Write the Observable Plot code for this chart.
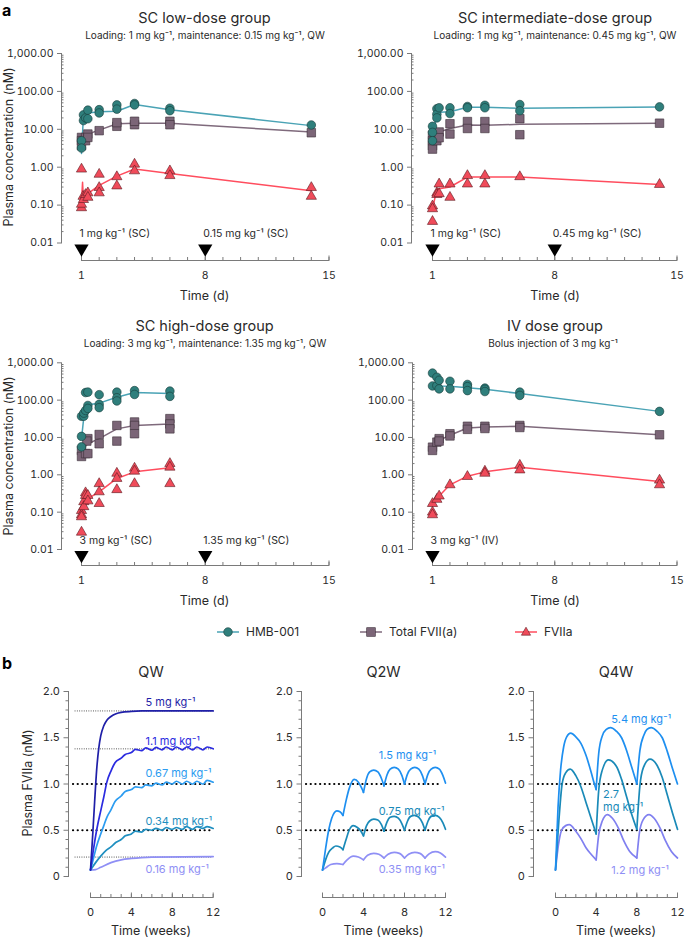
<!DOCTYPE html>
<html><head><meta charset="utf-8">
<script src="https://cdn.jsdelivr.net/npm/d3@7"></script>
<script src="https://cdn.jsdelivr.net/npm/@observablehq/plot@0.6"></script>
<style>
body{margin:0;background:#fff;overflow:hidden;}
#root{position:relative;width:685px;height:938px;font-family:Inter,"Noto Sans",sans-serif;color:#2a2a2a;overflow:hidden;}
.abs{position:absolute;white-space:nowrap;line-height:1;}
.c{transform:translate(-50%,-50%);}
.l{transform:translate(0,-50%);}
.r{transform:translate(-50%,-50%) rotate(-90deg);}
</style></head><body><div id="root"></div>
<script>
// ---------------- DATA: panel a (day, concentration nM) ----------------
const lowHMB_pts = [[1,5.0],[1,3.2],[1.11,24],[1.11,17],[1.23,20],[1.36,32],[1.36,19],[2,33],[2,27],[3,44],[3,34],[4,48],[4,44],[6,36],[6,31],[14,13]];
const lowHMB_mean = [[1,2.3],[1.11,23],[1.36,27],[2,29],[3,30],[4,45],[6,33],[14,12.5]];
const lowFVII_pts = [[1,6.1],[1,5.0],[1,3.7],[1.23,5.0],[1.23,6.1],[1.36,7.5],[1.36,6.1],[2,9.2],[3,12],[3,15],[4,13.2],[4,16.3],[6,16.3],[6,13.2],[14,8.1]];
const lowFVII_mean = [[1,5.5],[1.23,6.2],[1.36,7.5],[2,9.5],[3,14],[4,14.5],[6,14.5],[14,8.5]];
const lowFVIIa_pts = [[1,0.89],[1,0.085],[1,0.105],[1.09,0.17],[1.11,0.14],[1.23,0.19],[1.36,0.21],[1.36,0.16],[2,0.65],[2,0.29],[2,0.21],[3,0.56],[3,0.32],[4,1.2],[4,0.8],[6,0.8],[6,0.6],[14,0.29],[14,0.17]];
const lowFVIIa_mean = [[1,0.13],[1.06,0.4],[1.11,0.14],[1.36,0.2],[2,0.33],[3,0.58],[4,0.9],[6,0.68],[14,0.24]];

const midHMB_pts = [[1,12],[1,8.3],[1,5],[1.25,35],[1.25,25],[1.25,20],[1.38,37],[2,37],[2,26],[3,40],[3,37],[4,43],[4,37],[6,45],[6,31],[14,39]];
const midHMB_mean = [[1,7],[1.25,23],[1.38,28],[2,29],[3,38],[4,38],[6,36],[14,39]];
const midFVII_pts = [[1,7],[1,5],[1,3.7],[1,3.0],[1.25,7.5],[1.25,5],[1.38,8.5],[1.38,6],[2,14],[2,7.5],[3,16],[3,10.5],[4,16],[4,10.5],[6,19],[6,7.2],[14,14.5]];
const midFVII_mean = [[1,5.5],[1.25,6.8],[1.38,8.5],[2,10.5],[3,13],[4,12.8],[6,13.5],[14,14.5]];
const midFVIIa_pts = [[1,0.095],[1,0.08],[1,0.037],[1.25,0.21],[1.25,0.19],[1.38,0.36],[1.38,0.2],[2,0.36],[2,0.16],[3,0.6],[3,0.36],[4,0.6],[4,0.36],[6,0.56],[14,0.35]];
const midFVIIa_mean = [[1,0.08],[1.25,0.26],[1.38,0.27],[2,0.3],[3,0.55],[4,0.55],[6,0.55],[14,0.35]];

const highHMB_pts = [[1,37],[1,10.7],[1,5.6],[1.13,37],[1.13,45],[1.23,160],[1.23,53],[1.36,164],[1.36,72],[1.36,60],[2,140],[2,77],[2,63],[3,164],[3,116],[3,95],[4,180],[4,142],[6,175],[6,126]];
const highHMB_mean = [[1,9],[1.13,35],[1.23,55],[1.36,75],[2,83],[3,120],[4,160],[6,150]];
const highFVII_pts = [[1,4.5],[1,3.1],[1.23,3.7],[1.36,9.3],[1.36,3.7],[1.3,8],[2,12],[2,6.8],[3,21],[3,8],[4,26],[4,21],[4,12.6],[6,32],[6,23],[6,17]];
const highFVII_mean = [[1,4.5],[1.36,6.8],[2,9.3],[3,17],[4,21],[6,23]];
const highFVIIa_pts = [[1,0.11],[1,0.085],[1,0.075],[1,0.029],[1.13,0.19],[1.13,0.14],[1.23,0.33],[1.23,0.28],[1.36,0.28],[1.36,0.2],[2,0.58],[2,0.35],[2,0.17],[3,1.1],[3,0.8],[3,0.4],[4,1.5],[4,1.25],[4,0.58],[6,2.0],[6,1.6],[6,0.58]];
const highFVIIa_mean = [[1,0.09],[1.13,0.18],[1.36,0.23],[2,0.35],[3,0.8],[4,1.2],[6,1.55]];

const ivHMB_pts = [[1,530],[1,240],[1.25,410],[1.25,245],[1.38,340],[1.38,200],[2,320],[2,200],[3,263],[3,230],[3,180],[4,210],[4,195],[4,170],[6,164],[6,134],[14,50]];
const ivHMB_mean = [[1,260],[1.25,255],[1.38,240],[2,235],[3,215],[4,195],[6,150],[14,50]];
const ivFVII_pts = [[1,5.5],[1,4.5],[1.25,7.5],[1.38,9.3],[1.38,8],[2,12.6],[2,11],[3,20],[3,16.5],[4,20],[4,17.4],[6,21],[6,18.5],[14,11.8]];
const ivFVII_mean = [[1,5],[1.25,7],[1.38,8.4],[2,11.5],[3,18],[4,19],[6,20],[14,11.8]];
const ivFVIIa_pts = [[1,0.17],[1,0.1],[1,0.085],[1.25,0.22],[1.38,0.27],[2,0.54],[3,0.9],[4,1.25],[4,1.1],[6,1.8],[6,1.35],[14,0.72],[14,0.54]];
const ivFVIIa_mean = [[1,0.16],[1.25,0.22],[1.38,0.27],[2,0.54],[3,0.92],[4,1.2],[6,1.6],[14,0.66]];

const lowDoses = [{day:1, c:0.01, label:"1 mg kg⁻¹ (SC)"},{day:8, c:0.01, label:"0.15 mg kg⁻¹ (SC)"}];
const midDoses = [{day:1, c:0.01, label:"1 mg kg⁻¹ (SC)"},{day:8, c:0.01, label:"0.45 mg kg⁻¹ (SC)"}];
const highDoses = [{day:1, c:0.01, label:"3 mg kg⁻¹ (SC)"},{day:8, c:0.01, label:"1.35 mg kg⁻¹ (SC)"}];
const ivDoses = [{day:1, c:0.01, label:"3 mg kg⁻¹ (IV)"}];

const yMajorA = [0.01, 0.1, 1, 10, 100, 1000];
const dayTicks = [1, 8, 15];

// ---------------- DATA: panel b (weeks, plasma FVIIa nM) ----------------
const qw5 = [[0,0.07],[0.2,0.42],[0.4,0.8],[0.6,1.15],[0.8,1.38],[1.0,1.52],[1.3,1.63],[1.6,1.69],[2.0,1.73],[2.5,1.76],[3,1.775],[4,1.785],[5,1.79],[8,1.79],[12,1.79]];
const qw11 = [[0,0.07],[0.3,0.3],[0.65,0.53],[1,0.71],[1.3,0.86],[1.6,1.02],[2,1.14],[2.4,1.23],[3,1.28],[3.4,1.32],[4,1.34],[4.4,1.375],[5,1.36],[5.4,1.39],[6,1.365],[6.4,1.395],[7,1.37],[7.4,1.4],[8,1.37],[8.4,1.4],[9,1.37],[9.4,1.4],[10,1.37],[10.4,1.4],[11,1.37],[11.4,1.4],[12,1.38]];
const qw067 = [[0,0.07],[0.3,0.2],[0.6,0.33],[1,0.46],[1.3,0.55],[1.6,0.64],[2,0.72],[2.4,0.81],[3,0.87],[3.4,0.92],[4,0.94],[4.4,0.97],[5,0.96],[5.4,0.99],[6,0.98],[6.4,1.01],[7,0.99],[7.4,1.02],[8,1.0],[8.4,1.03],[9,1.0],[9.4,1.03],[10,1.0],[10.4,1.03],[11,1.0],[11.4,1.04],[12,1.02]];
const qw034 = [[0,0.07],[0.5,0.15],[1,0.22],[1.5,0.28],[2,0.32],[2.5,0.37],[3,0.4],[3.4,0.44],[4,0.46],[4.4,0.49],[5,0.48],[5.4,0.51],[6,0.5],[6.4,0.52],[7,0.5],[7.4,0.53],[8,0.51],[8.4,0.53],[9,0.51],[9.4,0.54],[10,0.51],[10.4,0.54],[11,0.52],[11.4,0.54],[12,0.52]];
const qw016 = [[0,0.07],[0.5,0.075],[1,0.1],[2,0.15],[3,0.18],[4,0.195],[5,0.205],[6,0.21],[12,0.215]];

const q2w15 = [[0,0.07],[0.3,0.3],[0.6,0.5],[0.9,0.63],[1.4,0.71],[1.7,0.7],[2,0.66],[2.3,0.82],[2.6,0.95],[3.1,1.05],[3.5,1.02],[3.8,0.96],[4,0.91],[4.3,1.06],[4.6,1.13],[5,1.15],[5.4,1.13],[5.75,1.06],[6,0.98],[6.3,1.1],[6.6,1.16],[7,1.18],[7.4,1.16],[7.75,1.09],[8,1.0],[8.3,1.11],[8.6,1.16],[9,1.18],[9.4,1.16],[9.75,1.09],[10,1.0],[10.3,1.11],[10.6,1.16],[11,1.18],[11.4,1.16],[11.75,1.09],[12,1.01]];
const q2w075 = [[0,0.07],[0.3,0.18],[0.6,0.26],[1,0.31],[1.3,0.33],[1.7,0.32],[2,0.29],[2.3,0.4],[2.6,0.5],[3,0.55],[3.4,0.53],[3.75,0.49],[4,0.44],[4.3,0.55],[4.6,0.6],[5,0.62],[5.4,0.61],[5.75,0.56],[6,0.49],[6.3,0.59],[6.6,0.64],[7,0.65],[7.4,0.63],[7.75,0.57],[8,0.5],[8.3,0.6],[8.6,0.65],[9,0.66],[9.4,0.64],[9.75,0.58],[10,0.5],[10.3,0.6],[10.6,0.65],[11,0.66],[11.4,0.64],[11.75,0.58],[12,0.51]];
const q2w035 = [[0,0.07],[0.4,0.1],[0.8,0.13],[1.4,0.14],[2,0.13],[2.4,0.18],[3,0.22],[3.5,0.21],[4,0.18],[4.4,0.23],[5,0.25],[5.5,0.24],[6,0.2],[6.4,0.24],[7,0.26],[7.5,0.25],[8,0.2],[8.4,0.24],[9,0.26],[9.5,0.25],[10,0.2],[10.4,0.245],[11,0.27],[11.5,0.255],[12,0.21]];

const q4w54 = [[0,0.07],[0.25,0.75],[0.5,1.15],[0.8,1.4],[1.1,1.51],[1.5,1.55],[2,1.51],[2.5,1.44],[3,1.31],[3.5,1.13],[3.8,1.01],[4,0.94],[4.25,1.33],[4.6,1.52],[5,1.59],[5.4,1.61],[6,1.57],[6.5,1.5],[7,1.36],[7.5,1.18],[8,1.0],[8.3,1.36],[8.7,1.53],[9,1.59],[9.4,1.61],[10,1.57],[10.5,1.5],[11,1.35],[11.5,1.17],[12,1.0]];
const q4w27 = [[0,0.07],[0.33,0.6],[0.65,1.0],[1.0,1.12],[1.45,1.16],[2,1.09],[2.5,0.97],[3,0.8],[3.5,0.63],[4,0.46],[4.25,0.93],[4.6,1.15],[5.2,1.26],[6,1.19],[6.5,1.05],[7,0.86],[7.5,0.67],[8,0.51],[8.3,0.98],[8.65,1.18],[9.3,1.27],[10,1.2],[10.5,1.07],[11,0.88],[11.5,0.69],[12,0.51]];
const q4w12 = [[0,0.07],[0.3,0.35],[0.6,0.5],[1.0,0.55],[1.35,0.56],[2,0.49],[2.5,0.41],[3,0.31],[3.5,0.24],[4,0.18],[4.25,0.45],[4.6,0.6],[5.1,0.67],[5.6,0.63],[6.2,0.52],[6.7,0.39],[7.3,0.27],[8,0.2],[8.25,0.47],[8.6,0.61],[9.2,0.67],[9.7,0.63],[10.3,0.52],[10.8,0.39],[11.4,0.27],[12,0.2]];

const targetLines = [1.0, 0.5];
const qwPlateaus = [1.79, 1.38, 0.21];
const yTicksB = [0, 0.5, 1, 1.5, 2];
const weekTicks = [0, 4, 8, 12];

const qwLabels = [
  {t:5.38, v:1.885, text:"5 mg kg⁻¹", color:"#1f1fa8"},
  {t:5.38, v:1.47, text:"1.1 mg kg⁻¹", color:"#2b2be0"},
  {t:5.38, v:1.117, text:"0.67 mg kg⁻¹", color:"#2c9cf0"},
  {t:5.38, v:0.605, text:"0.34 mg kg⁻¹", color:"#1f8fc0"},
  {t:5.38, v:0.083, text:"0.16 mg kg⁻¹", color:"#8f8ff5"}];
const q2wLabels = [
  {t:5.48, v:1.31, text:"1.5 mg kg⁻¹", color:"#1e8ff0"},
  {t:5.48, v:0.713, text:"0.75 mg kg⁻¹", color:"#1a8ab8"},
  {t:5.48, v:0.083, text:"0.35 mg kg⁻¹", color:"#8f8ff5"}];
const q4wLabels = [
  {t:5.49, v:1.705, text:"5.4 mg kg⁻¹", color:"#1e8ff0"},
  {t:4.68, v:0.825, text:"2.7\nmg kg⁻¹", color:"#1a8ab8"},
  {t:5.49, v:0.072, text:"1.2 mg kg⁻¹", color:"#8f8ff5"}];

// ---------------- styles ----------------
const FONT = "Inter, 'Noto Sans', sans-serif";
const AX = "#7a7a7a";
const TXT = "#2a2a2a";
const C = {
  hmb: {fill:"#2f7f7c", stroke:"#173d3b", line:"#4aa3b5"},
  fvii: {fill:"#7b6577", stroke:"#3a2e38", line:"#7f6a7c"},
  fviia: {fill:"#f04b5a", stroke:"#5a1a20", line:"#ff4d5e"}
};

const root = document.getElementById("root");
function txt(s, x, y, size, cls = "c", extra = {}) {
  const d = document.createElement("div");
  d.className = "abs " + cls;
  d.textContent = s;
  d.style.left = x + "px"; d.style.top = y + "px"; d.style.fontSize = size + "px";
  Object.assign(d.style, extra);
  root.appendChild(d);
  return d;
}
function place(svg, left, top) {
  svg.style.position = "absolute";
  svg.style.left = left + "px";
  svg.style.top = top + "px";
  root.appendChild(svg);
}

const X = d => d[0], Y = d => d[1];

function panelA(g) {
  const {left, top, W, H, ax, x0, x1, y1000, y001, xline, hmb, fvii, fviia, doses} = g;
  const fh = xline - y1000;
  const yMinor = d3.range(-2, 3).flatMap(e => d3.range(2, 10).map(m => m * Math.pow(10, e)));
  const days = d3.range(1, 16);
  const svg = Plot.plot({
    width: W, height: H,
    marginLeft: ax - left, marginRight: W - (x1 - left),
    marginTop: y1000 - top, marginBottom: H - (xline - top),
    x: {domain: [1, 15], range: [x0 - left, x1 - left]},
    y: {type: "log", domain: [0.01, 1000], range: [y001 - top, y1000 - top]},
    style: {fontFamily: FONT, fontSize: "10.5px", color: TXT, background: "none", overflow: "visible"},
    marks: [
      Plot.frame({anchor: "left", insetBottom: xline - y001, stroke: AX}),
      Plot.frame({anchor: "bottom", insetLeft: x0 - ax, stroke: AX}),
      Plot.axisY({ticks: yMajorA, tickFormat: d3.format(",.2f"), tickSize: 4, tickPadding: 4, stroke: AX, label: null}),
      Plot.tickY(yMinor, {y: d => d, stroke: AX, insetRight: (x1 - ax) - 2.5}),
      Plot.tickX(days, {x: d => d, stroke: AX, insetTop: fh - 3}),
      Plot.tickX(dayTicks, {x: d => d, stroke: AX, insetTop: fh - 4.5}),
      Plot.axisX({ticks: dayTicks, tickSize: 0, tickPadding: 11, label: null}),
      Plot.line(hmb[1], {x: X, y: Y, stroke: C.hmb.line, strokeWidth: 1.5}),
      Plot.line(fvii[1], {x: X, y: Y, stroke: C.fvii.line, strokeWidth: 1.5}),
      Plot.line(fviia[1], {x: X, y: Y, stroke: C.fviia.line, strokeWidth: 1.5}),
      Plot.dot(fviia[0], {x: X, y: Y, symbol: "triangle", r: 3.8, fill: C.fviia.fill, stroke: C.fviia.stroke, strokeWidth: 0.6}),
      Plot.dot(fvii[0], {x: X, y: Y, symbol: "square", r: 4.8, fill: C.fvii.fill, stroke: C.fvii.stroke, strokeWidth: 0.6}),
      Plot.dot(hmb[0], {x: X, y: Y, symbol: "circle", r: 4.3, fill: C.hmb.fill, stroke: C.hmb.stroke, strokeWidth: 0.6}),
      Plot.dot(doses, {x: "day", y: "c", symbol: "triangle", rotate: 180, r: 5.3, fill: "#000", dy: 5.5}),
      Plot.text(doses, {x: "day", y: "c", text: "label", textAnchor: "start", dx: -2, dy: -9, fontSize: 10.5, fill: TXT})
    ]
  });
  place(svg, left, top);
}

function segRows(name, data, interval) {
  const rows = [];
  for (const [t, v] of data) {
    if (!interval) { rows.push({t, v, k: name}); continue; }
    let s = Math.floor(t / interval + 1e-9);
    if (s * interval >= 12) s -= 1;
    rows.push({t, v, k: name + s});
    const onDose = Math.abs(t / interval - Math.round(t / interval)) < 1e-9;
    if (onDose && t > 0 && t < 12) rows.push({t, v, k: name + (s - 1)});
  }
  rows.sort((a, b) => a.k < b.k ? -1 : a.k > b.k ? 1 : a.t - b.t);
  return rows;
}

function panelB(g) {
  const {left, top, W, H, ax, x0, x1, y2, y0, xline, series, interval, labels, plateaus} = g;
  const fh = xline - y2;
  const weeks = d3.range(0, 13);
  const yMinor = d3.range(0, 21).map(i => i / 10).filter(v => Math.abs(v * 2 - Math.round(v * 2)) > 1e-9);
  const marks = [
    Plot.frame({anchor: "left", insetBottom: xline - y0, stroke: AX}),
    Plot.frame({anchor: "bottom", insetLeft: x0 - ax, stroke: AX}),
    Plot.axisY({ticks: yTicksB, tickFormat: d => d === 0 ? "0" : d.toFixed(1), tickSize: 4.5, tickPadding: 4, stroke: AX, label: null}),
    Plot.axisY({ticks: yMinor, tickSize: 2.5, stroke: AX, fill: "none", label: null}),
    Plot.tickX(weeks, {x: d => d, stroke: AX, insetTop: fh - 3}),
    Plot.tickX(weekTicks, {x: d => d, stroke: AX, insetTop: fh - 4.5}),
    Plot.axisX({ticks: weekTicks, tickSize: 0, tickPadding: 11, label: null})
  ];
  if (plateaus) marks.push(Plot.ruleY(plateaus, {y: d => d, stroke: "#444", strokeWidth: 1, strokeDasharray: "0.1,2.2", strokeLinecap: "round", insetLeft: 7}));
  marks.push(Plot.ruleY(targetLines, {y: d => d, stroke: "#000", strokeWidth: 2.2, strokeDasharray: "0.1,4.6", strokeLinecap: "round", insetLeft: 5, insetRight: 3}));
  for (const s of series) {
    marks.push(Plot.line(segRows(s.name, s.data, interval), {x: "t", y: "v", z: "k", stroke: s.color, strokeWidth: 1.7, curve: "monotone-x"}));
  }
  marks.push(Plot.text(labels, {x: "t", y: "v", text: "text", fill: "color", textAnchor: "start", fontSize: 11, lineHeight: 1.15}));
  const svg = Plot.plot({
    width: W, height: H,
    marginLeft: ax - left, marginRight: W - (x1 - left),
    marginTop: y2 - top, marginBottom: H - (xline - top),
    x: {domain: [0, 12], range: [x0 - left, x1 - left]},
    y: {domain: [0, 2], range: [y0 - top, y2 - top]},
    style: {fontFamily: FONT, fontSize: "11px", color: TXT, background: "none", overflow: "visible"},
    marks
  });
  place(svg, left, top);
}

// ---------------- panel a ----------------
txt("a", 2, 10, 16, "l", {fontWeight: "700", color: "#000"});
const topRow = {top: 40, W: 335, H: 250, y1000: 53, y001: 242.5, xline: 260};
const botRow = {top: 345, W: 335, H: 250, y1000: 362.3, y001: 549, xline: 565};
panelA({...topRow, left: 0, ax: 61, x0: 81, x1: 328.5, hmb: [lowHMB_pts, lowHMB_mean], fvii: [lowFVII_pts, lowFVII_mean], fviia: [lowFVIIa_pts, lowFVIIa_mean], doses: lowDoses});
panelA({...topRow, left: 350, ax: 411, x0: 432, x1: 676.5, hmb: [midHMB_pts, midHMB_mean], fvii: [midFVII_pts, midFVII_mean], fviia: [midFVIIa_pts, midFVIIa_mean], doses: midDoses});
panelA({...botRow, left: 0, ax: 61, x0: 81, x1: 328.5, hmb: [highHMB_pts, highHMB_mean], fvii: [highFVII_pts, highFVII_mean], fviia: [highFVIIa_pts, highFVIIa_mean], doses: highDoses});
panelA({...botRow, left: 350, ax: 412, x0: 432, x1: 676.5, hmb: [ivHMB_pts, ivHMB_mean], fvii: [ivFVII_pts, ivFVII_mean], fviia: [ivFVIIa_pts, ivFVIIa_mean], doses: ivDoses});

txt("SC low-dose group", 204.5, 18, 14.5);
txt("Loading: 1 mg kg⁻¹, maintenance: 0.15 mg kg⁻¹, QW", 205, 34.5, 10);
txt("SC intermediate-dose group", 555, 18, 14.5);
txt("Loading: 1 mg kg⁻¹, maintenance: 0.45 mg kg⁻¹, QW", 555, 34.5, 10);
txt("SC high-dose group", 204.5, 326, 14.5);
txt("Loading: 3 mg kg⁻¹, maintenance: 1.35 mg kg⁻¹, QW", 205, 343, 10);
txt("IV dose group", 555, 326, 14.5);
txt("Bolus injection of 3 mg kg⁻¹", 553, 343, 10);
txt("Time (d)", 204.5, 296, 12.5); txt("Time (d)", 555, 296, 12.5);
txt("Time (d)", 204.5, 601, 12.5); txt("Time (d)", 555, 601, 12.5);
txt("Plasma concentration (nM)", 9, 147, 12.5, "r");
txt("Plasma concentration (nM)", 9, 456, 12.5, "r");

// legend
function legendItem(cx, label, shape, col) {
  const s = document.createElementNS("http://www.w3.org/2000/svg", "svg");
  s.setAttribute("width", 24); s.setAttribute("height", 14);
  let m = "";
  if (shape === "circle") m = `<circle cx="12" cy="7" r="4.3" fill="${col.fill}" stroke="${col.stroke}" stroke-width="0.6"/>`;
  if (shape === "square") m = `<rect x="7.7" y="2.7" width="8.6" height="8.6" fill="${col.fill}" stroke="${col.stroke}" stroke-width="0.6"/>`;
  if (shape === "triangle") m = `<path d="M12,2.2L16.6,10.2L7.4,10.2Z" fill="${col.fill}" stroke="${col.stroke}" stroke-width="0.6"/>`;
  s.innerHTML = `<line x1="1" x2="23" y1="7" y2="7" stroke="${col.line}" stroke-width="1.5"/>` + m;
  s.style.position = "absolute"; s.style.left = (cx - 12) + "px"; s.style.top = "625px";
  root.appendChild(s);
  txt(label, cx + 18, 632, 12, "l");
}
legendItem(228, "HMB-001", "circle", C.hmb);
legendItem(371, "Total FVII(a)", "square", C.fvii);
legendItem(526, "FVIIa", "triangle", C.fviia);

// ---------------- panel b ----------------
txt("b", 2, 663, 16, "l", {fontWeight: "700", color: "#000"});
const rowB = {top: 680, H: 258, y2: 691, y0: 876, xline: 897};
panelB({...rowB, left: 0, W: 225, ax: 68, x0: 90, x1: 212.7, interval: null, labels: qwLabels, plateaus: qwPlateaus,
  series: [{name:"a", data: qw016, color:"#8f8ff5"}, {name:"b", data: qw034, color:"#1f8fc0"}, {name:"c", data: qw067, color:"#2c9cf0"}, {name:"d", data: qw11, color:"#2b2be0"}, {name:"e", data: qw5, color:"#1f1fa8"}]});
panelB({...rowB, left: 232, W: 225, ax: 301, x0: 322, x1: 445, interval: 2, labels: q2wLabels,
  series: [{name:"a", data: q2w035, color:"#8f8ff5"}, {name:"b", data: q2w075, color:"#1a8ab8"}, {name:"c", data: q2w15, color:"#1e8ff0"}]});
panelB({...rowB, left: 462, W: 223, ax: 533, x0: 555, x1: 677, interval: 4, labels: q4wLabels,
  series: [{name:"a", data: q4w12, color:"#8080f0"}, {name:"b", data: q4w27, color:"#1a8ab8"}, {name:"c", data: q4w54, color:"#1e8ff0"}]});

txt("QW", 151, 672, 14.5); txt("Q2W", 383.5, 672, 14.5); txt("Q4W", 616, 672, 14.5);
txt("Time (weeks)", 151, 931, 12.5); txt("Time (weeks)", 383.5, 931, 12.5); txt("Time (weeks)", 616, 931, 12.5);
txt("Plasma FVIIa (nM)", 28, 783, 12.5, "r");
</script></body></html>
